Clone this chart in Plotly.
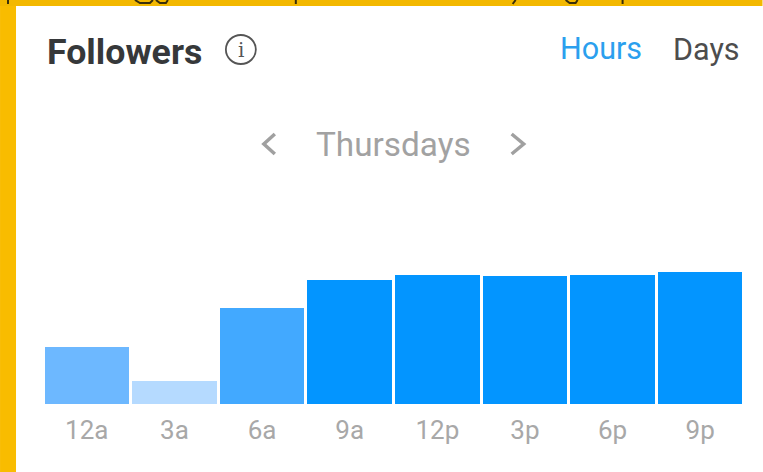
import plotly.graph_objects as go

categories = ["12a", "3a", "6a", "9a", "12p", "3p", "6p", "9p"]
values = [57, 23, 96, 124, 129, 128.5, 129, 132]
colors = ["#6DB8FF", "#B5DAFF", "#42A9FF", "#0395FF", "#0395FF", "#0395FF", "#0395FF", "#0395FF"]

W, H = 763, 472
L, R, T, B = 43, 744.5, 204, 404


def px(x):
    return (x - L) / (R - L)


def py(y):
    return (B - y) / (B - T)


fig = go.Figure(go.Bar(x=categories, y=values, marker=dict(color=colors, line_width=0), width=0.965))


def label(x, y, text, size, color, anchor="center", family="Roboto, sans-serif"):
    fig.add_annotation(xref="paper", yref="paper", x=px(x), y=py(y), text=text, showarrow=False,
                       xanchor=anchor, yanchor="middle", font=dict(size=size, color=color, family=family))


label(45, 52, "<b>Followers</b>", 35.7, "#36383A", "left")
label(558, 48, "Hours", 30.5, "#2B9FEE", "left")
label(671, 49, "Days", 30.5, "#4D4D4D", "left")
label(394, 144, "Thursdays", 33.3, "#A2A2A2")
label(241, 50, "i", 20, "#555555", family="DejaVu Serif, serif")


def shape(kind, **kw):
    fig.add_shape(type=kind, xref="paper", yref="paper", **kw)


def rect(x0, y0, x1, y1, color):
    shape("rect", x0=px(x0), x1=px(x1), y0=py(y0), y1=py(y1), fillcolor=color, line_width=0, layer="below")


def polyline(points, color, width):
    d = "M " + " L ".join(f"{px(x):.5f} {py(y):.5f}" for x, y in points)
    shape("path", path=d, line=dict(color=color, width=width))


rect(0, 0, 16, H, "#F9BC00")
rect(0, 0, W, 6, "#F3B800")
shape("circle", x0=px(226), x1=px(256), y0=py(35), y1=py(64), line=dict(color="#555555", width=1.8))
polyline([(275, 134), (264, 144), (275, 154)], "#A0A0A0", 3.5)
polyline([(512, 134), (524, 144), (512, 154)], "#A0A0A0", 3.5)

# descenders of the cropped line of text above the card
for pts in ([(135, 0), (140, 3), (150, 3), (153, 0)], [(156, 0), (160, 3), (166, 3), (168, 0)],
            [(296, 0), (296, 4)], [(516, 0), (513, 4)], [(566, 0), (570, 3), (576, 3), (578, 0)],
            [(623, 0), (623, 4)], [(8, 0), (8, 4)]):
    polyline(pts, "#3A2F0A", 2)

fig.update_layout(
    width=W, height=H, margin=dict(l=L, r=W - R, t=T, b=H - B),
    paper_bgcolor="white", plot_bgcolor="white", showlegend=False,
    bargap=0,
    xaxis=dict(tickfont=dict(size=26, color="#A8A8A8", family="Roboto, sans-serif"), showline=False,
               showgrid=False, ticks="", ticklen=0, zeroline=False, fixedrange=True, ticklabelstandoff=8),
    yaxis=dict(range=[0, B - T], visible=False, fixedrange=True),
)
fig.write_html("out.html", post_script="document.body.style.margin='0';document.body.style.overflow='hidden';",
               config={"displayModeBar": False})
